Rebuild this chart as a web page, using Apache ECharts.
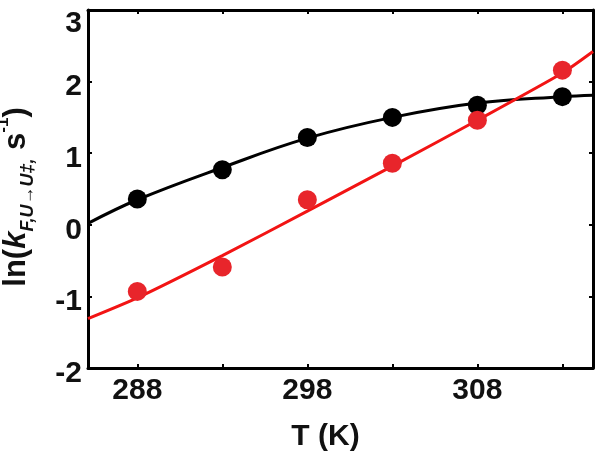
<!DOCTYPE html>
<html>
<head>
<meta charset="utf-8">
<script src="https://cdn.jsdelivr.net/npm/echarts@6/dist/echarts.min.js"></script>
<style>html,body{margin:0;padding:0;background:#fff}#c{width:600px;height:454px}</style>
</head>
<body>
<div id="c"></div>
<script>
// Temperatures (K) of measured points
var temps = [288, 293, 298, 303, 308, 313];
// Black data points ln(k)
var blackVals = [0.36, 0.77, 1.22, 1.50, 1.67, 1.79];
// Red data points ln(k)
var redVals = [-0.93, -0.59, 0.35, 0.86, 1.46, 2.16];
// Black fit curve
var blackFitT = [285.1, 288, 293, 298, 303, 308, 313, 314.8];
var blackFitV = [0.02, 0.35, 0.80, 1.21, 1.50, 1.70, 1.79, 1.81];
// Red fit line
var redFitT = [285.1, 288, 293, 298, 303, 308, 313, 314.8];
var redFitV = [-1.31, -1.02, -0.43, 0.19, 0.82, 1.46, 2.12, 2.42];
// Axis ticks
var xTicks = [288, 293, 298, 303, 308, 313];
var xLabels = [288, 298, 308];

function zip(a, b) { return a.map(function (v, i) { return [v, b[i]]; }); }

var FONT = 'Liberation Sans';
var chart = echarts.init(document.getElementById('c'));
var axisLine = { show: true, onZero: false, lineStyle: { color: '#000', width: 3 } };
chart.setOption({
  animation: false,
  grid: { left: 88, top: 10, right: 7, bottom: 86, containLabel: false, outerBoundsMode: 'none' },
  xAxis: [{
    type: 'value', min: 285.1, max: 314.8, position: 'bottom',
    axisLine: axisLine, splitLine: { show: false },
    axisTick: { show: true, inside: true, length: 4, customValues: xTicks, lineStyle: { color: '#000', width: 2 } },
    axisLabel: { customValues: xLabels, color: '#111', fontFamily: FONT, fontWeight: 'bold', fontSize: 30, margin: 8 },
    name: 'T (K)', nameLocation: 'middle', nameGap: 54,
    nameTextStyle: { color: '#111', fontFamily: FONT, fontWeight: 'bold', fontSize: 30, padding: [0, 30, 0, 0] }
  }, {
    type: 'value', min: 285.1, max: 314.8, position: 'top',
    axisLine: axisLine, splitLine: { show: false },
    axisTick: { show: true, inside: true, length: 4, customValues: xTicks, lineStyle: { color: '#000', width: 2 } },
    axisLabel: { show: false }
  }],
  yAxis: [{
    type: 'value', min: -2, max: 3, interval: 1, position: 'left',
    axisLine: axisLine, splitLine: { show: false },
    axisTick: { show: true, inside: true, length: 4, lineStyle: { color: '#000', width: 2 } },
    axisLabel: {
      color: '#111', fontFamily: FONT, fontWeight: 'bold', fontSize: 30, margin: 6,
      formatter: function (v) { return v === 3 ? '{t|3}' : '{n|' + v + '}'; },
      rich: {
        t: { fontFamily: FONT, fontWeight: 'bold', fontSize: 30, color: '#111', padding: [28, 0, 0, 0] },
        n: { fontFamily: FONT, fontWeight: 'bold', fontSize: 30, color: '#111', padding: [11, 0, 0, 0] }
      }
    },
    name: '{a|ln(}{k|k}{sub|F,U→U‡,}{a| s}{sup|-1}{a|)}',
    nameLocation: 'middle', nameRotate: 90, nameGap: 51,
    nameTextStyle: {
      padding: [0, 16, 0, 0],
      rich: {
        a: { fontFamily: FONT, fontWeight: 'bold', fontSize: 31, color: '#111', lineHeight: 42, verticalAlign: 'middle' },
        k: { fontFamily: FONT, fontWeight: 'bold', fontStyle: 'italic', fontSize: 31, color: '#111', lineHeight: 42, verticalAlign: 'middle' },
        sub: { fontFamily: FONT, fontWeight: 'bold', fontStyle: 'italic', fontSize: 18, color: '#111', lineHeight: 18, verticalAlign: 'bottom' },
        sup: { fontFamily: FONT, fontWeight: 'bold', fontSize: 17, color: '#111', lineHeight: 36, verticalAlign: 'top' }
      }
    }
  }, {
    type: 'value', min: -2, max: 3, interval: 1, position: 'right',
    axisLine: axisLine, splitLine: { show: false },
    axisTick: { show: true, inside: true, length: 4, lineStyle: { color: '#000', width: 2 } },
    axisLabel: { show: false }
  }],
  series: [
    { type: 'line', data: zip(blackFitT, blackFitV), smooth: 0.4, showSymbol: false, lineStyle: { color: '#000', width: 3 }, z: 2 },
    { type: 'line', data: zip(redFitT, redFitV), smooth: 0.2, showSymbol: false, lineStyle: { color: '#f21414', width: 3 }, z: 2 },
    { type: 'scatter', data: zip(temps, blackVals), symbolSize: 19, itemStyle: { color: '#000', opacity: 1 }, z: 3 },
    { type: 'scatter', data: zip(temps, redVals), symbolSize: 19, itemStyle: { color: '#e8252b', opacity: 1 }, z: 3 }
  ]
});
</script>
</body>
</html>
